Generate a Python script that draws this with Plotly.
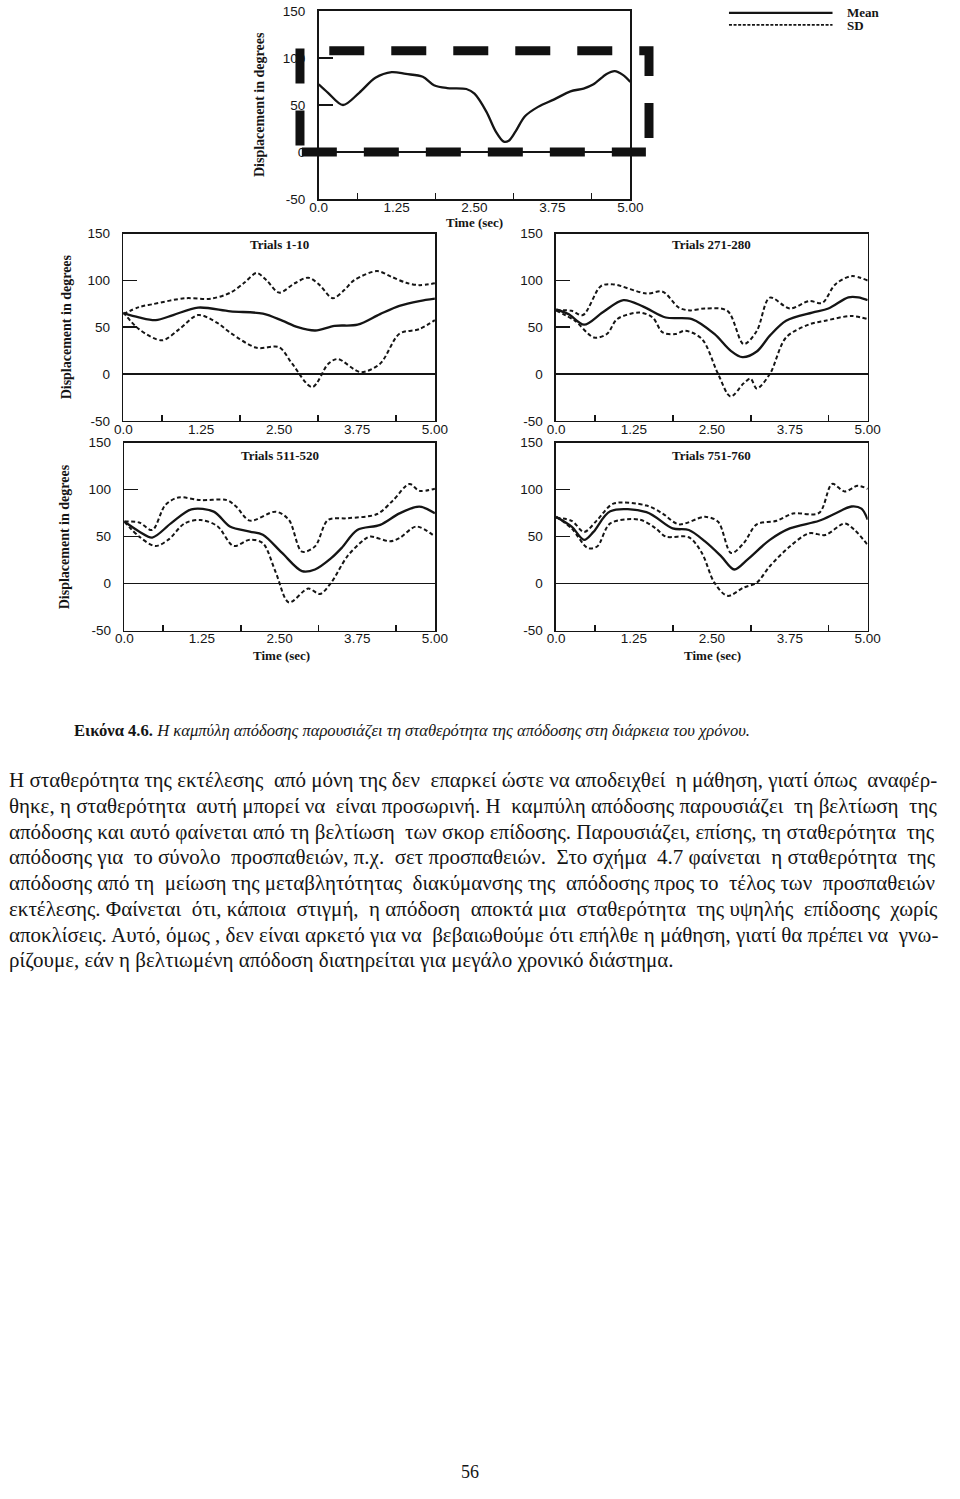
import plotly.graph_objects as go

# The page body keeps an 8px margin, so the figure is offset by it.
PAGE_W, PAGE_H = 960, 1499
OFF = 8
W, H = PAGE_W - OFF, PAGE_H - 2 * OFF

# ---------------- data ----------------
X_TICK_VALS = [0, 1.25, 2.5, 3.75, 5.0]
X_TICK_TEXT = ["0.0", "1.25", "2.50", "3.75", "5.00"]
X_MINOR_VALS = [0.625, 1.875, 3.125, 4.375]
Y_TICK_VALS = [-50, 0, 50, 100, 150]
Y_TICK_TEXT = ["-50", "0", "50", "100", "150"]

# Top (overall) panel: mean curve
TOP_MEAN_T = [0, 0.15, 0.39, 0.65, 0.91, 1.17, 1.4, 1.67, 1.85, 2.06, 2.37, 2.5, 2.69, 2.84, 2.97, 3.05, 3.16, 3.31, 3.52, 3.78, 4.04, 4.25, 4.41, 4.62, 4.75, 4.88, 5.0]
TOP_MEAN_V = [72, 63, 50, 63, 79, 85, 83, 80, 71, 68, 67, 62, 43, 22, 11, 12, 22, 38, 48, 56, 64.5, 67.5, 72, 83, 86, 82, 74.5]

# Top panel: oversized SD box (as printed)
SD_BOX_LEFT_T = [-0.30, -0.30]
SD_BOX_LEFT_V = [110, 0]
SD_BOX_TOP_T = [0.17, 5.30, 5.30]
SD_BOX_TOP_V = [107.7, 107.7, 0]
SD_BOX_BOTTOM_T = [-0.27, 5.25]
SD_BOX_BOTTOM_V = [0, 0]

# Trials 1-10
T1_MEAN_T = [0, 0.25, 0.52, 0.8, 1.2, 1.72, 2.24, 2.55, 2.8, 3.08, 3.39, 3.76, 4.12, 4.43, 4.75, 5.0]
T1_MEAN_V = [65, 60.5, 57.6, 63, 71, 67, 64.5, 57, 50, 46.5, 51.5, 52.7, 64, 72.8, 78, 80.6]
T1_UP_T = [0, 0.25, 0.47, 0.99, 1.4, 1.72, 1.95, 2.14, 2.3, 2.5, 2.75, 2.97, 3.15, 3.36, 3.55, 3.7, 4.07, 4.3, 4.54, 4.75, 5.0]
T1_UP_V = [64, 71.5, 74.6, 81, 80.5, 87, 98, 108, 100, 87, 97, 103, 95, 81, 90, 100, 110, 104, 97.5, 95, 97]
T1_LO_T = [0, 0.25, 0.62, 0.9, 1.2, 1.5, 1.72, 2.14, 2.5, 2.71, 3.03, 3.29, 3.44, 3.81, 4.12, 4.43, 4.75, 5.0]
T1_LO_V = [66, 48, 36, 48, 63, 55, 44, 28, 28.6, 11, -14, 11, 16, 2, 11, 43, 48, 57.6]

# Trials 271-280
T2_MEAN_T = [0, 0.2, 0.45, 0.75, 1.08, 1.4, 1.76, 2.18, 2.54, 2.8, 2.99, 3.22, 3.43, 3.69, 4.11, 4.37, 4.69, 4.85, 5.0]
T2_MEAN_V = [69, 64, 52.7, 66, 79, 72, 60.4, 58.7, 42.8, 25, 18, 24, 41, 57, 65.7, 70, 82, 82, 79]
T2_UP_T = [0, 0.25, 0.43, 0.72, 0.92, 1.45, 1.71, 1.97, 2.15, 2.39, 2.75, 3.01, 3.22, 3.43, 3.75, 4.06, 4.27, 4.48, 4.74, 5.0]
T2_UP_V = [68, 67.5, 63, 94, 95.8, 86, 88, 71, 68, 70, 67.5, 32, 46, 81.6, 70, 78, 76, 95.8, 104.6, 100]
T2_LO_T = [0, 0.3, 0.61, 0.82, 0.98, 1.34, 1.55, 1.71, 1.92, 2.07, 2.34, 2.6, 2.8, 3.01, 3.12, 3.22, 3.43, 3.69, 4.06, 4.32, 4.74, 5.0]
T2_LO_V = [68, 57, 39, 43, 58.7, 65.7, 60.4, 44.5, 42.8, 46.3, 37.5, 0, -24, -10, -5, -15.5, 0, 39, 53, 57, 62, 58.7]

# Trials 511-520
T3_MEAN_T = [0, 0.25, 0.45, 0.75, 1.08, 1.44, 1.7, 2.02, 2.23, 2.54, 2.86, 3.07, 3.33, 3.5, 3.75, 4.12, 4.43, 4.75, 5.0]
T3_MEAN_V = [66, 55, 49, 64, 79, 76.5, 60.7, 55.4, 52, 32.6, 13.3, 15, 27, 38, 57, 62.5, 74.7, 81.8, 74.7]
T3_UP_T = [0, 0.24, 0.45, 0.66, 0.87, 1.23, 1.65, 1.8, 2.02, 2.44, 2.65, 2.86, 3.07, 3.28, 3.59, 4.07, 4.33, 4.59, 4.75, 5.0]
T3_UP_V = [66, 65, 57, 83.5, 91.6, 88.8, 88.8, 82, 67, 76.5, 67.7, 34, 39.6, 67.7, 69.5, 74, 88.8, 106, 98.6, 101]
T3_LO_T = [0, 0.24, 0.5, 0.71, 0.97, 1.23, 1.5, 1.76, 2.02, 2.23, 2.44, 2.65, 2.96, 3.15, 3.33, 3.59, 3.86, 3.96, 4.28, 4.43, 4.7, 5.0]
T3_LO_V = [66, 50, 40, 46.7, 64, 67.7, 61, 40, 46.7, 43, 11.6, -20, -5.3, -11, 1, 29, 46.7, 50, 45, 48.4, 60.7, 50]

# Trials 751-760
T4_MEAN_T = [0, 0.25, 0.45, 0.6, 0.87, 1.45, 1.87, 2.13, 2.39, 2.65, 2.86, 3.07, 3.43, 3.75, 4.22, 4.48, 4.74, 4.9, 5.0]
T4_MEAN_V = [71, 60.5, 46.5, 55, 77, 76, 58.7, 57, 44.8, 29, 15, 25.5, 46.5, 58.7, 66.8, 74.5, 82, 79.7, 68]
T4_UP_T = [0, 0.25, 0.45, 0.66, 0.92, 1.45, 1.71, 1.97, 2.39, 2.6, 2.81, 3.01, 3.22, 3.54, 3.8, 4.22, 4.43, 4.63, 4.84, 5.0]
T4_UP_V = [70, 66.8, 55, 67.5, 85, 83, 74.5, 63, 71, 65.7, 32.5, 43, 63, 66.8, 74.5, 75.2, 106, 98, 104, 100.7]
T4_LO_T = [0, 0.25, 0.51, 0.66, 0.87, 1.34, 1.6, 1.76, 2.13, 2.34, 2.54, 2.75, 3.01, 3.22, 3.43, 3.75, 4.06, 4.32, 4.63, 4.79, 5.0]
T4_LO_V = [71, 58.7, 37.8, 39.5, 64, 68, 58.7, 50, 49.3, 32.5, 1, -13, -4.2, 1, 18.5, 39.5, 53.5, 51.7, 64, 57, 41]

PANEL_TITLES = ["Trials 1-10", "Trials 271-280", "Trials 511-520", "Trials 751-760"]

CAPTION = ("<b>Εικόνα 4.6.</b> <i>Η καμπύλη απόδοσης παρουσιάζει τη σταθερότητα "
           "της απόδοσης στη διάρκεια του χρόνου.</i>")
BODY_LINES = [
    "Η σταθερότητα της εκτέλεσης από μόνη της δεν επαρκεί ώστε να αποδειχθεί η μάθηση, γιατί όπως αναφέρ-",
    "θηκε, η σταθερότητα αυτή μπορεί να είναι προσωρινή. Η καμπύλη απόδοσης παρουσιάζει τη βελτίωση της",
    "απόδοσης και αυτό φαίνεται από τη βελτίωση των σκορ επίδοσης. Παρουσιάζει, επίσης, τη σταθερότητα της",
    "απόδοσης για το σύνολο προσπαθειών, π.χ. σετ προσπαθειών. Στο σχήμα 4.7 φαίνεται η σταθερότητα της",
    "απόδοσης από τη μείωση της μεταβλητότητας διακύμανσης της απόδοσης προς το τέλος των προσπαθειών",
    "εκτέλεσης. Φαίνεται ότι, κάποια στιγμή, η απόδοση αποκτά μια σταθερότητα της υψηλής επίδοσης χωρίς",
    "αποκλίσεις. Αυτό, όμως , δεν είναι αρκετό για να βεβαιωθούμε ότι επήλθε η μάθηση, γιατί θα πρέπει να γνω-",
    "ρίζουμε, εάν η βελτιωμένη απόδοση διατηρείται για μεγάλο χρονικό διάστημα.",
]
# extra word spaces per line to approximate the justified setting
BODY_EXTRA_SPACES = [4, 5, 2, 7, 5, 8, 2, 0]
PAGE_NUMBER = "56"

# ---------------- layout helpers (page pixel -> paper) ----------------
def px_x(p):
    return (p - OFF) / W

def px_y(p):
    return 1 - (p - OFF) / H

# panel boxes in page pixels: (left, right, top, bottom)
BOXES = {
    1: (325, 644, 12, 202),    # top overall
    2: (125, 444, 237, 426),   # trials 1-10
    3: (568, 887, 237, 426),   # trials 271-280
    4: (126, 444, 448, 638),   # trials 511-520
    5: (568, 887, 448, 638),   # trials 751-760
}

X_RANGE = [0, 5]
Y_RANGE = [-50, 150]

INK = "#151515"
SANS = "Liberation Sans, Arial, sans-serif"
SERIF = "Liberation Serif, Times New Roman, serif"

fig = go.Figure()
layout = dict(
    width=W, height=H, margin=dict(l=0, r=0, t=0, b=0),
    paper_bgcolor="white", plot_bgcolor="rgba(0,0,0,0)",
    showlegend=False,
)

for i, (l, r, t, b) in BOXES.items():
    xa = dict(
        domain=[px_x(l), px_x(r)], range=X_RANGE, anchor=f"y{i}",
        showline=True, mirror=True, linecolor=INK, linewidth=1.6,
        showgrid=False, zeroline=False,
        tickmode="array", tickvals=X_TICK_VALS, ticktext=X_TICK_TEXT,
        ticks="", tickfont=dict(family=SANS, size=13.5, color=INK),
        ticklabelstandoff=-5,
        minor=dict(tickmode="array", tickvals=X_MINOR_VALS, ticks="inside",
                   ticklen=6, tickwidth=1.5, tickcolor=INK, showgrid=False),
    )
    ya = dict(
        domain=[px_y(b), px_y(t)], range=Y_RANGE, anchor=f"x{i}",
        showline=True, mirror=True, linecolor=INK, linewidth=1.6,
        showgrid=False, zeroline=True, zerolinecolor=INK, zerolinewidth=1.6,
        tickmode="array", tickvals=Y_TICK_VALS, ticktext=Y_TICK_TEXT,
        ticks="inside", ticklen=14, tickwidth=1.5, tickcolor=INK,
        tickfont=dict(family=SANS, size=13.5, color=INK),
        ticklabelstandoff=9,
    )
    layout["xaxis" if i == 1 else f"xaxis{i}"] = xa
    layout["yaxis" if i == 1 else f"yaxis{i}"] = ya

# overlay axes for the oversized SD box of the top panel
def ext_domain(d0, d1, r0, r1, e0, e1):
    f = lambda v: d0 + (v - r0) / (r1 - r0) * (d1 - d0)
    return [f(e0), f(e1)]

l, r, t, b = BOXES[1]
OV_X = [-0.5, 5.5]
OV_Y = [-15, 125]
layout["xaxis6"] = dict(domain=ext_domain(px_x(l), px_x(r), 0, 5, *OV_X), range=OV_X,
                        visible=False, anchor="y6", fixedrange=True)
layout["yaxis6"] = dict(domain=ext_domain(px_y(b), px_y(t), -50, 150, *OV_Y), range=OV_Y,
                        visible=False, anchor="x6", fixedrange=True)

fig.update_layout(**layout)

MEAN_LINE = dict(color=INK, width=2.3, shape="spline", smoothing=0.9)
SD_LINE = dict(color=INK, width=2.0, dash="4px,2.6px", shape="spline", smoothing=0.9)

def add(tx, vy, i, line):
    xa = "x" if i == 1 else f"x{i}"
    ya = "y" if i == 1 else f"y{i}"
    fig.add_trace(go.Scatter(x=tx, y=vy, xaxis=xa, yaxis=ya, mode="lines",
                             line=line, hoverinfo="skip"))

add(TOP_MEAN_T, TOP_MEAN_V, 1, MEAN_LINE)
for i, (mt, mv, ut, uv, lt, lv) in zip(
        [2, 3, 4, 5],
        [(T1_MEAN_T, T1_MEAN_V, T1_UP_T, T1_UP_V, T1_LO_T, T1_LO_V),
         (T2_MEAN_T, T2_MEAN_V, T2_UP_T, T2_UP_V, T2_LO_T, T2_LO_V),
         (T3_MEAN_T, T3_MEAN_V, T3_UP_T, T3_UP_V, T3_LO_T, T3_LO_V),
         (T4_MEAN_T, T4_MEAN_V, T4_UP_T, T4_UP_V, T4_LO_T, T4_LO_V)]):
    add(ut, uv, i, SD_LINE)
    add(lt, lv, i, SD_LINE)
    add(mt, mv, i, MEAN_LINE)

BOX_LINE = dict(color="#111111", width=9, dash="35px,27px")
for bt, bv in [(SD_BOX_LEFT_T, SD_BOX_LEFT_V), (SD_BOX_TOP_T, SD_BOX_TOP_V),
               (SD_BOX_BOTTOM_T, SD_BOX_BOTTOM_V)]:
    fig.add_trace(go.Scatter(x=bt, y=bv, xaxis="x6", yaxis="y6", mode="lines",
                             line=BOX_LINE, hoverinfo="skip"))

# ---------------- text ----------------
ann = []
def text(x, y, s, size, family=SERIF, bold=False, xanchor="center", angle=0, color=INK):
    ann.append(dict(xref="paper", yref="paper", x=px_x(x), y=px_y(y), text=(f"<b>{s}</b>" if bold else s),
                    showarrow=False, xanchor=xanchor, yanchor="middle", textangle=angle,
                    align="left" if xanchor == "left" else "center",
                    font=dict(family=family, size=size, color=color)))

def justify(line, extra):
    words = line.split(" ")
    gaps = len(words) - 1
    if extra <= 0 or gaps <= 0:
        return line
    out = words[0]
    for g in range(gaps):
        # spread the extra spaces evenly over the gaps
        n = (g + 1) * extra // gaps - g * extra // gaps
        out += " " + "\u00a0" * n + words[g + 1]
    return out

title_pos = [(285, 248), (727, 248), (285, 461), (727, 461)]
for (x, y), s in zip(title_pos, PANEL_TITLES):
    text(x, y, s, 13, bold=True)

text(265, 107, "Displacement in degrees", 14, bold=True, angle=-90)
text(67, 331, "Displacement in degrees", 14, bold=True, angle=-90)
text(65, 543, "Displacement in degrees", 14, bold=True, angle=-90)
text(485, 226, "Time (sec)", 13, bold=True)
text(287, 663, "Time (sec)", 13, bold=True)
text(728, 663, "Time (sec)", 13, bold=True)

# legend
text(864, 14, "Mean", 13, bold=True, xanchor="left")
text(864, 27, "SD", 13, bold=True, xanchor="left")
shapes = [
    dict(type="line", xref="paper", yref="paper", x0=px_x(745), x1=px_x(851), y0=px_y(14), y1=px_y(14),
         line=dict(color=INK, width=2.2)),
    dict(type="line", xref="paper", yref="paper", x0=px_x(745), x1=px_x(851), y0=px_y(26), y1=px_y(26),
         line=dict(color=INK, width=1.8, dash="3px,1.6px")),
]

# caption and body text
text(73, 739, CAPTION, 16.6, xanchor="left")
for k, (line, extra) in enumerate(zip(BODY_LINES, BODY_EXTRA_SPACES)):
    text(6, 789 + 26 * k, justify(line, extra), 21, xanchor="left")
text(480, 1488, PAGE_NUMBER, 18)

fig.update_layout(annotations=ann, shapes=shapes)

fig.write_html("out.html", config={"staticPlot": True})
